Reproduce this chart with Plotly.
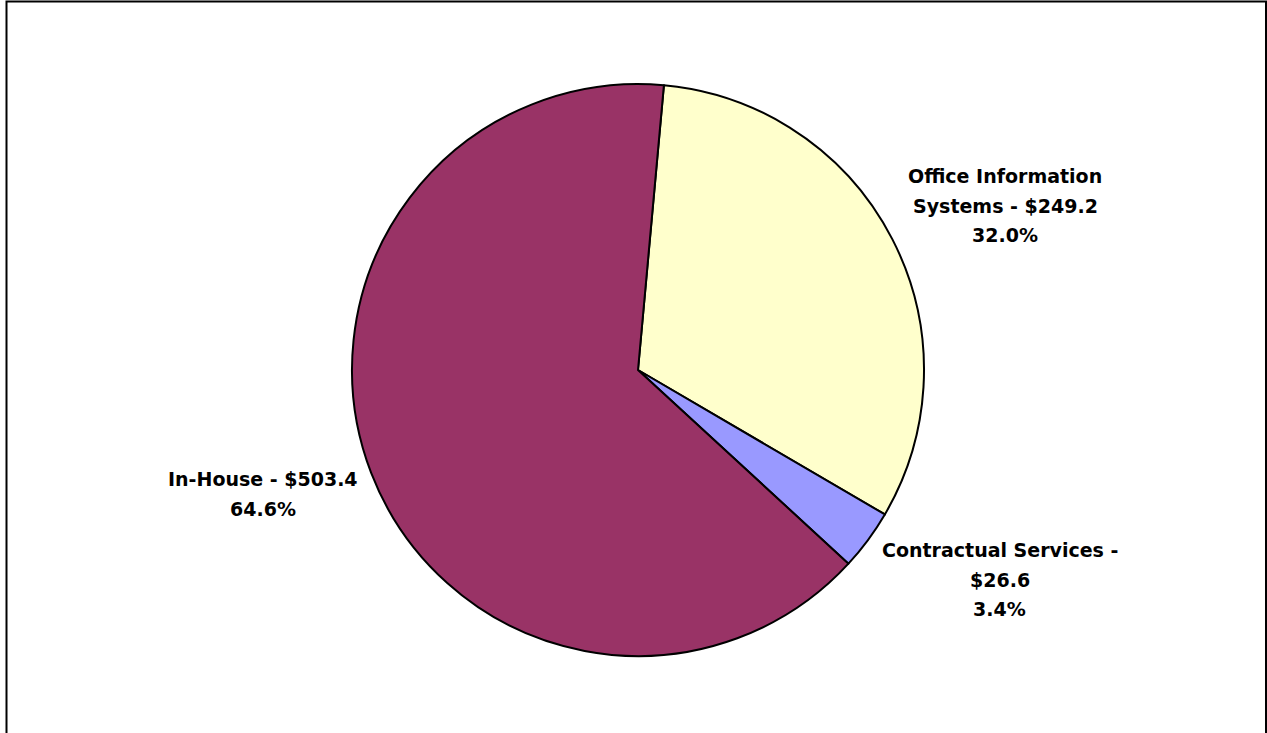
import textwrap
import plotly.graph_objects as go

# Spending breakdown ($ millions)
categories = ["Office Information Systems", "Contractual Services", "In-House"]
values = [249.2, 26.6, 503.4]
colors = ["#FFFFCC", "#9999FF", "#993366"]

W, H = 1267, 733
total = sum(values)

# Pie geometry in pixels
cx, cy, r = 638, 370, 286

fig = go.Figure(
    go.Pie(
        labels=categories,
        values=values,
        marker=dict(colors=colors, line=dict(color="black", width=2)),
        sort=False,
        direction="clockwise",
        rotation=5.2,
        textinfo="none",
        hoverinfo="label+value+percent",
        showlegend=False,
        domain=dict(
            x=[(cx - r) / W, (cx + r) / W],
            y=[(H - cy - r) / H, (H - cy + r) / H],
        ),
    )
)

# Label anchor (pixel centre of first line) for each slice
label_pos = {
    "Office Information Systems": (1005, 176),
    "Contractual Services": (1000, 550),
    "In-House": (263, 479),
}
line_gap = 29.5

annotations = []
for name, v in zip(categories, values):
    lines = textwrap.wrap(f"{name} - ${v:.1f}", width=22, break_on_hyphens=False)
    lines.append(f"{100 * v / total:.1f}%")
    x0, y0 = label_pos[name]
    for i, line in enumerate(lines):
        annotations.append(
            dict(
                x=x0 / W,
                y=(H - (y0 + i * line_gap)) / H,
                xref="paper",
                yref="paper",
                text=f"<b>{line}</b>",
                showarrow=False,
                xanchor="center",
                yanchor="middle",
                font=dict(family="DejaVu Sans", size=19, color="black"),
            )
        )

fig.update_layout(
    width=W,
    height=H,
    margin=dict(l=0, r=0, t=0, b=0),
    paper_bgcolor="white",
    plot_bgcolor="white",
    annotations=annotations,
    shapes=[
        dict(
            type="rect",
            xref="paper",
            yref="paper",
            x0=6.5 / W,
            x1=1266 / W,
            y0=-0.02,
            y1=(H - 1.5) / H,
            line=dict(color="black", width=2),
            fillcolor="rgba(0,0,0,0)",
        )
    ],
)

fig.write_html("out.html")
